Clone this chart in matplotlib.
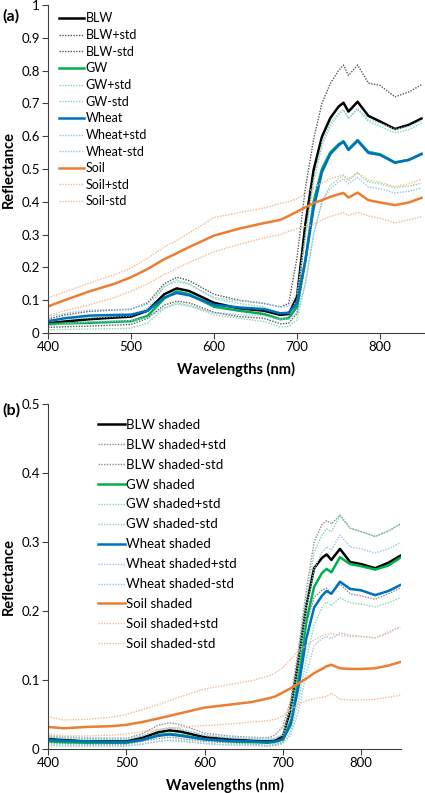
import matplotlib
matplotlib.use("Agg")
import matplotlib.pyplot as plt

plt.rcParams['font.family'] = ['Lato', 'DejaVu Sans']

# wavelength grid (nm) shared by both panels
wl = [400, 420, 450, 480, 500, 520, 540, 555, 570, 600, 630, 660, 680, 690, 700,
      710, 720, 730, 740, 750, 756, 762, 773, 786, 800, 818, 835, 850]

# ---- panel (a): sunlit spectra ----
blw = [0.030, 0.035, 0.042, 0.047, 0.050, 0.068, 0.118, 0.136, 0.128, 0.092, 0.075, 0.068, 0.055, 0.058, 0.110,
       0.330, 0.497, 0.598, 0.655, 0.690, 0.702, 0.675, 0.705, 0.662, 0.645, 0.622, 0.635, 0.654]
blw_p = [0.043, 0.055, 0.066, 0.070, 0.072, 0.092, 0.150, 0.170, 0.160, 0.118, 0.100, 0.090, 0.080, 0.090, 0.230,
         0.440, 0.590, 0.700, 0.760, 0.800, 0.817, 0.785, 0.817, 0.762, 0.755, 0.720, 0.735, 0.757]
blw_m = [0.017, 0.019, 0.021, 0.024, 0.026, 0.045, 0.085, 0.097, 0.092, 0.063, 0.050, 0.045, 0.028, 0.030, 0.060,
         0.220, 0.390, 0.490, 0.550, 0.575, 0.585, 0.560, 0.590, 0.550, 0.545, 0.520, 0.530, 0.548]
gw = [0.027, 0.029, 0.031, 0.034, 0.036, 0.052, 0.105, 0.127, 0.118, 0.080, 0.068, 0.058, 0.042, 0.045, 0.080,
      0.220, 0.400, 0.500, 0.550, 0.575, 0.585, 0.560, 0.588, 0.552, 0.545, 0.520, 0.528, 0.545]
gw_p = [0.040, 0.043, 0.046, 0.050, 0.052, 0.075, 0.140, 0.162, 0.150, 0.105, 0.090, 0.080, 0.060, 0.060, 0.100,
        0.300, 0.470, 0.580, 0.640, 0.670, 0.680, 0.655, 0.683, 0.645, 0.630, 0.610, 0.620, 0.640]
gw_m = [0.010, 0.011, 0.012, 0.013, 0.015, 0.030, 0.075, 0.092, 0.085, 0.055, 0.045, 0.035, 0.018, 0.020, 0.040,
        0.150, 0.300, 0.400, 0.450, 0.470, 0.480, 0.465, 0.490, 0.460, 0.455, 0.443, 0.448, 0.457]
wheat = [0.036, 0.045, 0.053, 0.055, 0.056, 0.068, 0.108, 0.122, 0.115, 0.086, 0.078, 0.073, 0.060, 0.062, 0.090,
         0.220, 0.380, 0.490, 0.545, 0.572, 0.583, 0.558, 0.586, 0.549, 0.543, 0.519, 0.528, 0.546]
wheat_p = [0.049, 0.060, 0.070, 0.072, 0.073, 0.088, 0.142, 0.157, 0.148, 0.108, 0.098, 0.092, 0.078, 0.082, 0.120,
           0.290, 0.460, 0.570, 0.630, 0.665, 0.680, 0.655, 0.685, 0.650, 0.640, 0.620, 0.630, 0.648]
wheat_m = [0.022, 0.028, 0.034, 0.036, 0.038, 0.048, 0.076, 0.088, 0.082, 0.062, 0.056, 0.052, 0.042, 0.043, 0.060,
           0.150, 0.300, 0.400, 0.440, 0.460, 0.470, 0.455, 0.474, 0.445, 0.440, 0.427, 0.432, 0.442]
soil = [0.081, 0.100, 0.127, 0.150, 0.170, 0.195, 0.225, 0.243, 0.262, 0.297, 0.318, 0.335, 0.345, 0.357, 0.370,
        0.383, 0.396, 0.405, 0.415, 0.423, 0.427, 0.413, 0.428, 0.405, 0.398, 0.390, 0.398, 0.412]
soil_p = [0.107, 0.125, 0.152, 0.178, 0.198, 0.228, 0.262, 0.282, 0.305, 0.352, 0.367, 0.381, 0.395, 0.400, 0.410,
          0.425, 0.442, 0.458, 0.470, 0.478, 0.482, 0.470, 0.487, 0.466, 0.460, 0.446, 0.455, 0.469]
soil_m = [0.053, 0.068, 0.086, 0.108, 0.127, 0.150, 0.178, 0.197, 0.215, 0.248, 0.270, 0.290, 0.300, 0.310, 0.318,
          0.325, 0.330, 0.345, 0.355, 0.363, 0.367, 0.358, 0.368, 0.357, 0.350, 0.336, 0.345, 0.355]

# ---- panel (b): shaded spectra ----
blw_s = [0.0145, 0.013, 0.011, 0.011, 0.011, 0.016, 0.024, 0.027, 0.025, 0.017, 0.014, 0.012, 0.011, 0.012, 0.018,
         0.058, 0.128, 0.208, 0.262, 0.277, 0.282, 0.274, 0.290, 0.271, 0.268, 0.262, 0.270, 0.280]
blw_s_p = [0.018, 0.017, 0.015, 0.015, 0.015, 0.022, 0.034, 0.038, 0.035, 0.023, 0.019, 0.017, 0.016, 0.020, 0.032,
           0.070, 0.145, 0.230, 0.300, 0.325, 0.331, 0.326, 0.339, 0.320, 0.315, 0.308, 0.316, 0.326]
blw_s_m = [0.009, 0.008, 0.007, 0.007, 0.007, 0.011, 0.015, 0.017, 0.015, 0.011, 0.009, 0.007, 0.005, 0.006, 0.010,
           0.035, 0.100, 0.180, 0.220, 0.230, 0.233, 0.225, 0.239, 0.225, 0.222, 0.217, 0.225, 0.233]
gw_s = [0.011, 0.010, 0.009, 0.009, 0.009, 0.013, 0.020, 0.022, 0.020, 0.014, 0.011, 0.010, 0.009, 0.010, 0.014,
        0.040, 0.105, 0.185, 0.235, 0.255, 0.261, 0.256, 0.278, 0.268, 0.265, 0.260, 0.266, 0.277]
gw_s_p = [0.017, 0.016, 0.014, 0.014, 0.014, 0.019, 0.028, 0.031, 0.029, 0.020, 0.016, 0.015, 0.014, 0.015, 0.022,
          0.060, 0.130, 0.215, 0.285, 0.310, 0.319, 0.315, 0.338, 0.320, 0.315, 0.308, 0.316, 0.326]
gw_s_m = [0.005, 0.004, 0.004, 0.004, 0.004, 0.007, 0.011, 0.013, 0.012, 0.008, 0.006, 0.005, 0.004, 0.005, 0.008,
          0.025, 0.070, 0.130, 0.180, 0.205, 0.213, 0.208, 0.219, 0.212, 0.210, 0.206, 0.212, 0.219]
wheat_s = [0.0135, 0.012, 0.011, 0.010, 0.010, 0.013, 0.019, 0.021, 0.019, 0.014, 0.012, 0.011, 0.010, 0.011, 0.014,
           0.035, 0.090, 0.160, 0.205, 0.222, 0.229, 0.225, 0.2425, 0.232, 0.230, 0.223, 0.229, 0.2375]
wheat_s_p = [0.020, 0.018, 0.017, 0.016, 0.016, 0.019, 0.027, 0.030, 0.028, 0.020, 0.017, 0.016, 0.015, 0.016, 0.020,
             0.045, 0.115, 0.200, 0.260, 0.285, 0.293, 0.288, 0.310, 0.293, 0.290, 0.284, 0.290, 0.299]
wheat_s_m = [0.007, 0.006, 0.005, 0.005, 0.005, 0.007, 0.011, 0.012, 0.011, 0.008, 0.006, 0.006, 0.005, 0.005, 0.008,
             0.020, 0.055, 0.110, 0.150, 0.160, 0.163, 0.160, 0.168, 0.165, 0.163, 0.161, 0.168, 0.177]
soil_s = [0.032, 0.030, 0.032, 0.033, 0.035, 0.039, 0.044, 0.048, 0.052, 0.060, 0.064, 0.068, 0.073, 0.076, 0.082,
          0.088, 0.095, 0.102, 0.110, 0.116, 0.120, 0.122, 0.117, 0.116, 0.116, 0.117, 0.121, 0.126]
soil_s_p = [0.047, 0.042, 0.043, 0.046, 0.050, 0.057, 0.064, 0.070, 0.076, 0.087, 0.093, 0.099, 0.105, 0.110, 0.118,
            0.130, 0.142, 0.150, 0.158, 0.164, 0.166, 0.167, 0.165, 0.163, 0.163, 0.161, 0.170, 0.177]
soil_s_m = [0.021, 0.019, 0.019, 0.020, 0.022, 0.025, 0.028, 0.030, 0.032, 0.034, 0.036, 0.039, 0.041, 0.043, 0.048,
            0.057, 0.065, 0.070, 0.073, 0.075, 0.076, 0.081, 0.072, 0.071, 0.071, 0.072, 0.075, 0.078]

# colours
c_blw, c_blw_std = '#000000', '#8c8c8c'
c_gw, c_gw_std = '#00b050', '#7fdcaa'
c_wheat, c_wheat_std = '#0070c0', '#9dc3e6'
c_soil, c_soil_std = '#ed7d31', '#f8b990'
dot = (0, (1, 1))


def draw(ax, series, suffix):
    for name, mean, plus, minus, cm, cs in series:
        ax.plot(wl, mean, color=cm, lw=1.8, label=name + suffix, solid_joinstyle='round')
        ax.plot(wl, plus, color=cs, lw=1.0, ls=dot, label=name + suffix + '+std')
        ax.plot(wl, minus, color=cs, lw=1.0, ls=dot, label=name + suffix + '-std')


def style(ax, ymax, yticks, ylabels, xmax):
    ax.set_xlim(400, xmax)
    ax.set_ylim(0, ymax)
    ax.set_xticks([400, 500, 600, 700, 800])
    ax.set_yticks(yticks)
    ax.set_yticklabels(ylabels)
    ax.spines['top'].set_visible(False)
    ax.spines['right'].set_visible(False)
    ax.spines['left'].set_color('#404040')
    ax.spines['bottom'].set_color('#404040')
    ax.tick_params(labelsize=9.5, length=4, width=0.8, color='#404040', pad=2)
    ax.set_xlabel('Wavelengths (nm)', fontsize=10.5, fontweight='bold', labelpad=6)
    ax.set_ylabel('Reflectance', fontsize=10.5, fontweight='bold', labelpad=4)


fig = plt.figure(figsize=(4.25, 7.93), dpi=100)

ax1 = fig.add_axes([48 / 425, 1 - 333 / 793, 376 / 425, 328 / 793])
draw(ax1, [('BLW', blw, blw_p, blw_m, c_blw, '#595959'),
           ('GW', gw, gw_p, gw_m, c_gw, c_gw_std),
           ('Wheat', wheat, wheat_p, wheat_m, c_wheat, c_wheat_std),
           ('Soil', soil, soil_p, soil_m, c_soil, c_soil_std)], '')
y1 = [0, 0.1, 0.2, 0.3, 0.4, 0.5, 0.6, 0.7, 0.8, 0.9, 1.0]
style(ax1, 1.0, y1, ['0'] + ['%.1f' % v for v in y1[1:-1]] + ['1'], 853)
ax1.legend(loc='upper left', bbox_to_anchor=(0.01, 1.0), frameon=False, fontsize=9,
           handlelength=2.0, handletextpad=0.1, labelspacing=0.37, borderaxespad=0.2)

ax2 = fig.add_axes([48 / 425, 1 - 749 / 793, 353 / 425, 345 / 793])
draw(ax2, [('BLW', blw_s, blw_s_p, blw_s_m, c_blw, c_blw_std),
           ('GW', gw_s, gw_s_p, gw_s_m, c_gw, c_gw_std),
           ('Wheat', wheat_s, wheat_s_p, wheat_s_m, c_wheat, c_wheat_std),
           ('Soil', soil_s, soil_s_p, soil_s_m, c_soil, c_soil_std)], ' shaded')
y2 = [0, 0.1, 0.2, 0.3, 0.4, 0.5]
style(ax2, 0.5, y2, ['0'] + ['%.1f' % v for v in y2[1:]], 851)
ax2.legend(loc='upper left', bbox_to_anchor=(0.12, 0.98), frameon=False, fontsize=9.5,
           handlelength=2.0, handletextpad=0.1, labelspacing=0.6, borderaxespad=0.2)

fig.text(0.005, 0.988, '(a)', fontsize=11.5, fontweight='bold', va='top')
fig.text(0.005, 0.492, '(b)', fontsize=11.5, fontweight='bold', va='top')

fig.savefig('out.png', dpi=100)
